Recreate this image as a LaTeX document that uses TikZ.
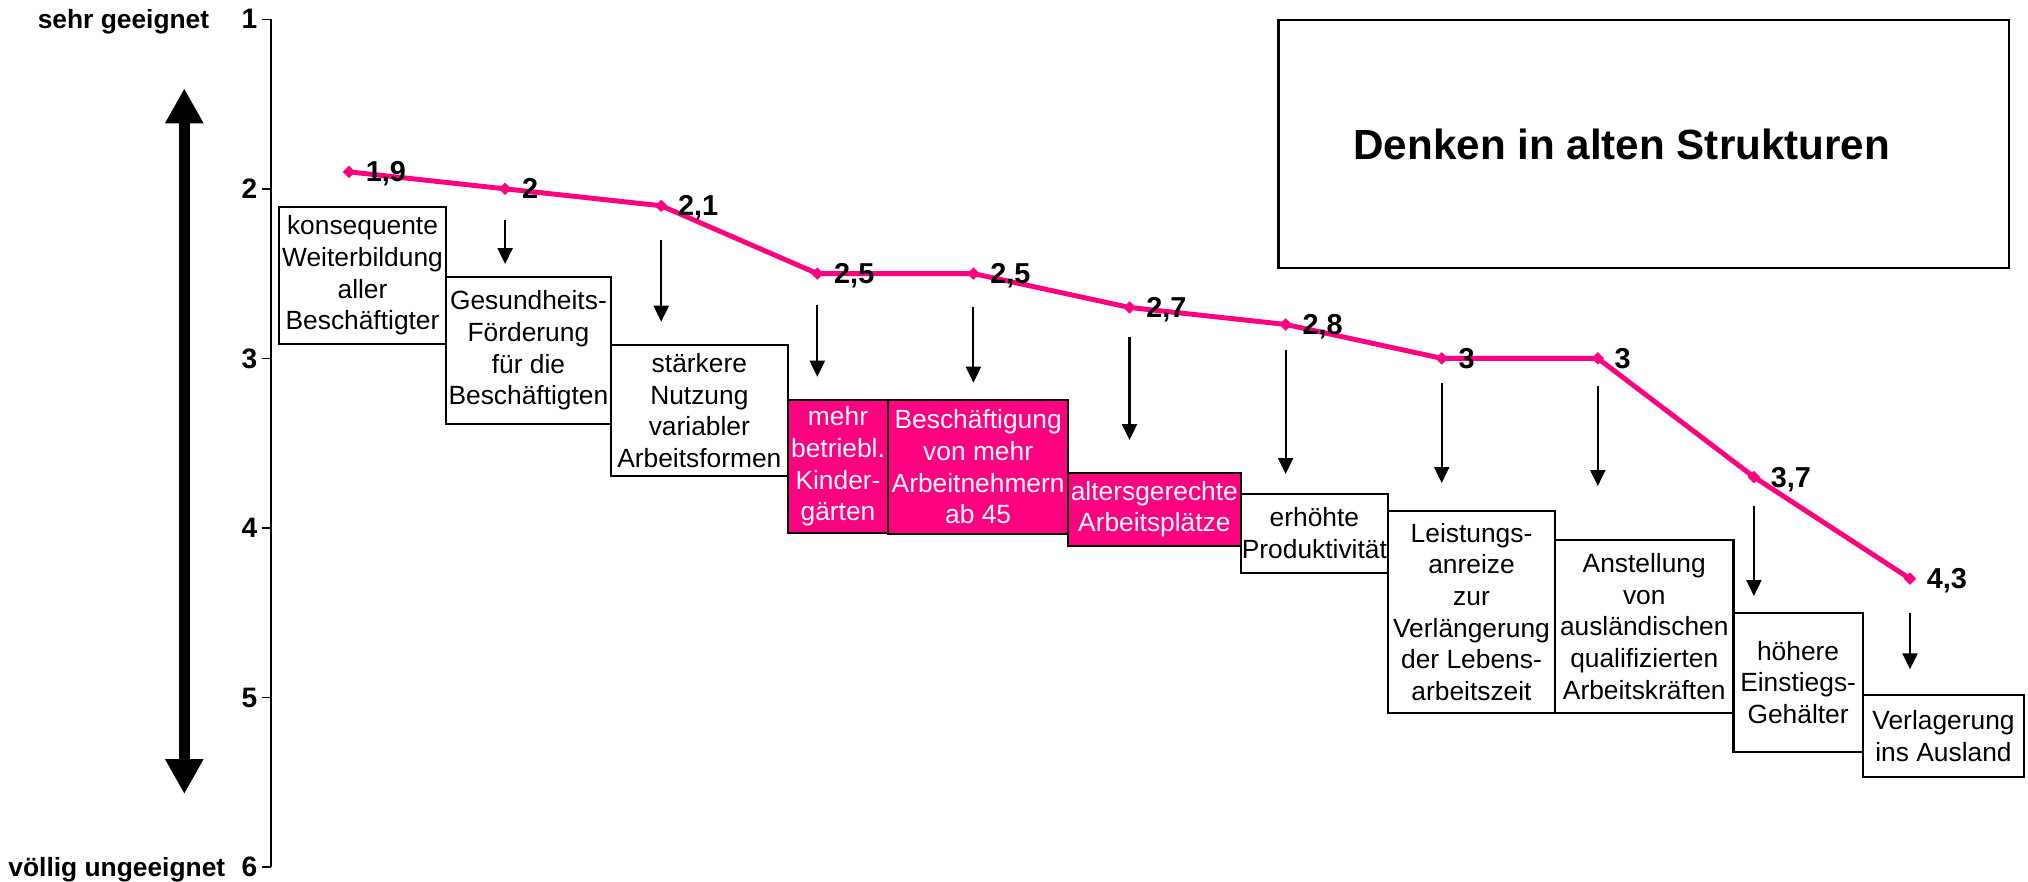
\documentclass[tikz,border=0pt]{standalone}
\usepackage{fontspec}
\setmainfont{Liberation Sans}
\usepackage{tikz}
\usetikzlibrary{arrows.meta,positioning,shapes.geometric}
\definecolor{chartpink}{RGB}{255,0,128}

\begin{document}
\begin{tikzpicture}
    [line cap=butt,line join=miter,x=1.561cm,y=-1.695cm,
     boxw/.style={draw=black,line width=0.6pt,fill=white,inner sep=0pt,outer sep=0pt,
                  anchor=north west,align=center,font=\fontsize{7.5}{9}\selectfont},
     boxp/.style={boxw,fill=chartpink,text=white},
     smallarrow/.style={line width=0.6pt,-{Triangle[length=0.16cm,width=0.15cm]}},
     bigarrow/.style={line width=3pt,{Triangle[length=0.35cm,width=0.36cm]}-{Triangle[length=0.35cm,width=0.36cm]}},
     datapt/.style={diamond,fill=chartpink,inner sep=0pt,minimum size=0.13cm},
     pinkline/.style={chartpink,line width=1.4pt,line join=round},
     vallabel/.style={font=\bfseries\fontsize{8.2}{9}\selectfont,inner sep=0pt,text depth=0pt},
     ticklabel/.style={font=\bfseries\fontsize{8}{9}\selectfont,inner sep=0pt,text depth=0pt,anchor=east},
     axistext/.style={font=\bfseries\fontsize{7.5}{9}\selectfont,inner sep=0pt}]
\useasboundingbox (-1.2358,0.8861) rectangle (11.756,6.0838);
%axis with ticks
\draw[line width=0.4pt] (0.5,1) -- (0.5,6);
\foreach \v in {1,...,6}{
  \draw[line width=0.4pt] (0.5,\v) -- ++(-0.0577,0) coordinate (tk\v);
  \node[ticklabel,xshift=-0.04cm] (t\v) at (tk\v) {\v};
}
\node[axistext,base left=0.31cm of t1] (top) {sehr geeignet};
\node[axistext,base left=0.15cm of t6] (bottom) {völlig ungeeignet};
%big double arrow
\coordinate (bigtop) at (-0.0551,1.4071);
\coordinate (bigbot) at (-0.0551,5.5705);
\draw[bigarrow] (bigtop) -- (bigbot);

%title box
\node[boxw,minimum width=7.305cm,minimum height=2.48cm] (titlebox) at (6.9545,1.0041) {};
\node[font=\bfseries\fontsize{12}{14}\selectfont,inner sep=0pt] (titletxt)
     at ([xshift=-0.22cm]titlebox.center) {Denken in alten Strukturen};

%boxes
\node[boxw,minimum width=1.67cm,minimum height=1.373cm] (b1) at (0.5516,2.1056)
     {konsequente\\Weiterbildung\\aller\\Beschäftigter};
\node[boxw,minimum width=1.65cm,minimum height=1.47cm] (b2) at (1.6208,2.5204)
     {Gesundheits-\\Förderung\\für die\\Beschäftigten};
\node[boxw,minimum width=1.767cm,minimum height=1.31cm] (b3) at (2.6784,2.9215)
     {stärkere\\Nutzung\\variabler\\Arbeitsformen};
\node[boxp,minimum width=1.006cm,minimum height=1.33cm] (b4) at (3.8104,3.2460)
     {mehr\\betriebl.\\Kinder-\\gärten};
\node[boxp,minimum width=1.797cm,minimum height=1.34cm] (b5) at (4.4548,3.2460)
     {Beschäftigung\\von mehr\\Arbeitnehmern\\ab 45};
\node[boxp,minimum width=1.727cm,minimum height=0.73cm] (b6) at (5.6060,3.6749)
     {altersgerechte\\Arbeitsplätze};
\node[boxw,minimum width=1.473cm,minimum height=0.787cm] (b7) at (6.7124,3.8006)
     {erhöhte\\Produktivität};
\node[boxw,minimum width=1.67cm,minimum height=2.017cm] (b8) at (7.6560,3.9009)
     {Leistungs-\\anreize\\zur\\Verlängerung\\der Lebens-\\arbeitszeit};
\node[boxw,minimum width=1.785cm,minimum height=1.73cm] (b9) at (8.7258,4.0720)
     {Anstellung\\von\\ausländischen\\qualifizierten\\Arbeitskräften};
\node[boxw,minimum width=1.292cm,minimum height=1.396cm] (b10) at (9.8693,4.5009)
     {höhere\\Einstiegs-\\Gehälter};
\node[boxw,minimum width=1.616cm,minimum height=0.817cm] (b11) at (10.6970,4.9864)
     {Verlagerung\\ins Ausland};

%arrows towards the boxes
\foreach \i/\s/\e in {2/2.1841/2.4437,3/2.3021/2.7841,4/2.6856/3.1086,5/2.6956/3.1440,
                      6/2.8744/3.4820,7/2.9510/3.6826,8/3.1457/3.7357,9/3.1634/3.7534,
                      10/3.8696/4.4024,11/4.5009/4.8348}{
  \coordinate (as\i) at (\i,\s);
  \coordinate (ae\i) at (\i,\e);
  \draw[smallarrow] (as\i) -- (ae\i);
}

%mean values
\foreach \i/\v in {1/1.9,2/2,3/2.1,4/2.5,5/2.5,6/2.7,7/2.8,8/3,9/3,10/3.7,11/4.3}
  \node[datapt] (p\i) at (\i,\v) {};
\draw[pinkline] (p1.center) \foreach \i in {2,...,11}{ -- (p\i.center)};
\foreach \i/\t in {1/{1,9},2/2,3/{2,1},4/{2,5},5/{2,5},6/{2,7},7/{2,8},8/3,9/3,10/{3,7},11/{4,3}}
  \node[vallabel,right=0.09cm of p\i] (v\i) {\t};
\end{tikzpicture}
\end{document}
